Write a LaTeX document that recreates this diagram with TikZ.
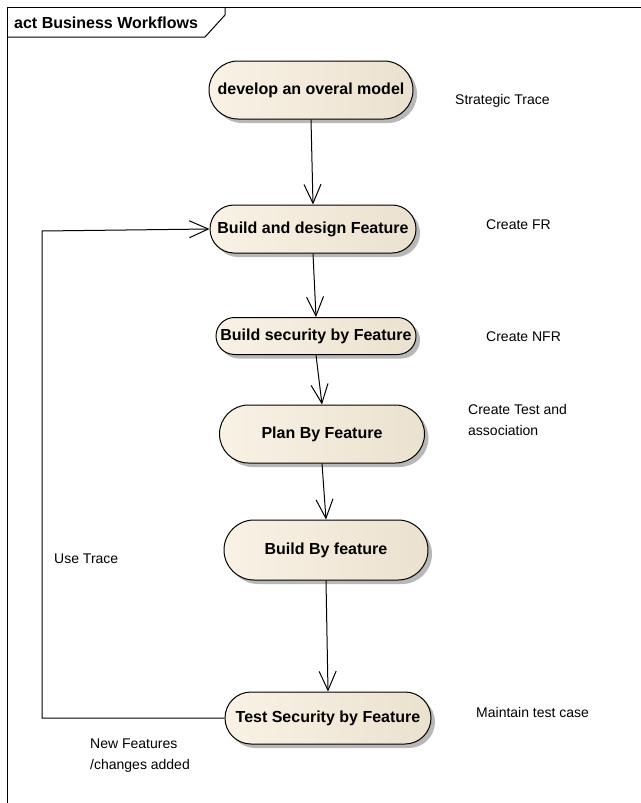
\documentclass[tikz,border=0pt]{standalone}
\usepackage{fontspec}
\setmainfont{Liberation Sans}
\usetikzlibrary{arrows.meta,shapes.misc,shadows}
\definecolor{actL}{HTML}{F9F2E5}
\definecolor{actR}{HTML}{EBE1CF}
\definecolor{shad}{HTML}{B8B8B8}
\begin{document}
\begin{tikzpicture}[x=1pt,y=-1pt,
  action/.style={rounded rectangle, draw=black, line width=1pt,
    left color=actL, right color=actR,
    general shadow={fill=shad, shadow xshift=4pt, shadow yshift=-4pt},
    font=\fontsize{16}{19}\selectfont\bfseries, inner sep=2pt},
  lbl/.style={anchor=west, font=\fontsize{14}{21}\selectfont, align=left, inner sep=0pt},
  flow/.style={line width=1pt, -{Straight Barb[length=19pt,width=17pt,line width=1pt]}},
  lnk/.style={line width=1pt}]
\useasboundingbox (0,0) rectangle (640,803);
\fill[white] (0,0) rectangle (640,803);
% frame
\draw[line width=1pt] (7,820) -- (7,7) -- (660,7);
\draw[line width=1pt] (7,37) -- (205,37) -- (225,15) -- (225,7);
\node[anchor=west, inner sep=0pt, font=\fontsize{16}{19}\selectfont\bfseries] (title) at (14,23) {act Business Workflows};
% nodes
\node[action, minimum width=208pt, minimum height=58pt] (n1) at (311,90) {develop an overal model};
\node[action, minimum width=210pt, minimum height=48pt] (n2) at (313,229) {Build and design Feature};
\node[action, minimum width=204pt, minimum height=37pt] (n3) at (316,336) {Build security by Feature};
\node[action, minimum width=209pt, minimum height=58pt] (n4) at (322,434) {Plan By Feature};
\node[action, minimum width=208pt, minimum height=60pt] (n5) at (326,550) {Build By feature};
\node[action, minimum width=210pt, minimum height=52pt] (n6) at (328,718) {Test Security by Feature};
% labels
\node[lbl] (l1) at (455,101) {Strategic Trace};
\node[lbl] (l2) at (486,225) {Create FR};
\node[lbl] (l3) at (486,337) {Create NFR};
\node[lbl] (l4) at (468,420) {Create Test and\\association};
\node[lbl] (l5) at (54,559) {Use Trace};
\node[lbl] (l6) at (476,712) {Maintain test case};
\node[lbl] (l7) at (90,756) {New Features\\/changes added};
% connectors
\draw[flow] (n1.south) -- (n2.north);
\draw[flow] (n2.south) -- (n3.north);
\draw[flow] (n3.south) -- (n4.north);
\draw[flow] (n4.south) -- (n5.north);
\draw[flow] (n5.south) -- (n6.north);
\coordinate (c1) at (42,718);
\coordinate (c2) at (42,231);
\draw[flow] (n6.west) -- (c1) -- (c2) -- (n2.west);
\end{tikzpicture}
\end{document}
